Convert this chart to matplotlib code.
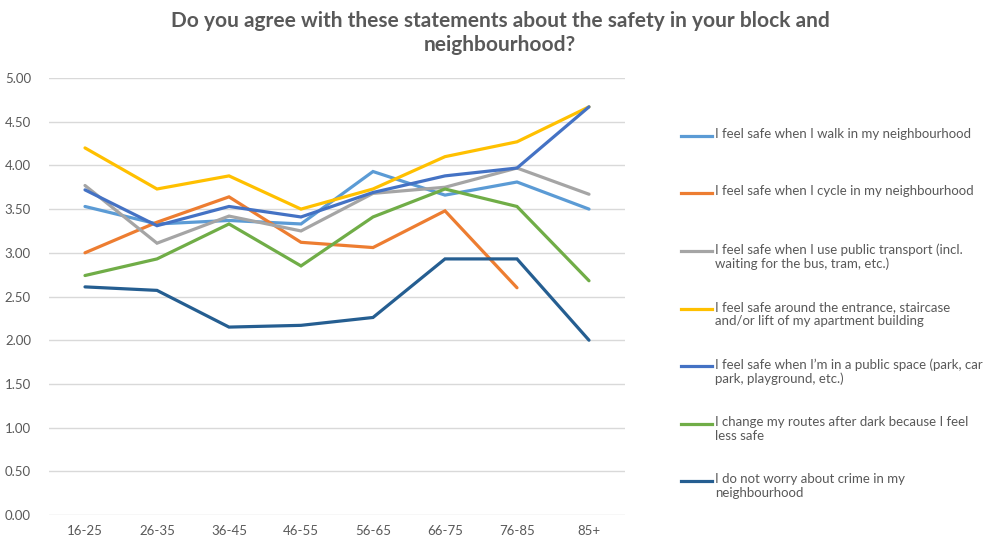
import numpy as np
import matplotlib
matplotlib.use("Agg")
import matplotlib.pyplot as plt
from matplotlib.lines import Line2D

plt.rcParams['font.family'] = ['Lato', 'DejaVu Sans']

# ================= DADOS =================
ages = ["16-25", "26-35", "36-45", "46-55", "56-65", "66-75", "76-85", "85+"]

walk = [3.53, 3.33, 3.37, 3.33, 3.93, 3.66, 3.81, 3.50]
cycle = [3.00, 3.35, 3.64, 3.12, 3.06, 3.48, 2.60, np.nan]
transport = [3.77, 3.11, 3.42, 3.25, 3.68, 3.75, 3.97, 3.67]
entrance = [4.20, 3.73, 3.88, 3.50, 3.73, 4.10, 4.27, 4.67]
public_space = [3.72, 3.31, 3.53, 3.41, 3.69, 3.88, 3.97, 4.67]
routes = [2.74, 2.93, 3.33, 2.85, 3.41, 3.73, 3.53, 2.68]
crime = [2.61, 2.57, 2.15, 2.17, 2.26, 2.93, 2.93, 2.00]

labels = [
    "I feel safe when I walk in my neighbourhood",
    "I feel safe when I cycle in my neighbourhood",
    "I feel safe when I use public transport (incl.\nwaiting for the bus, tram, etc.)",
    "I feel safe around the entrance, staircase\nand/or lift of my apartment building",
    "I feel safe when I\u2019m in a public space (park, car\npark, playground, etc.)",
    "I change my routes after dark because I feel\nless safe",
    "I do not worry about crime in my\nneighbourhood",
]
series = [walk, cycle, transport, entrance, public_space, routes, crime]
colors = ["#5B9BD5", "#ED7D31", "#A5A5A5", "#FFC000", "#4472C4", "#70AD47", "#255E91"]

TXT = "#595959"

# ================= FIGURA =================
fig = plt.figure(figsize=(9.9, 5.38), dpi=100)
ax = fig.add_axes([49 / 990, 1 - 515 / 538, 576 / 990, 437 / 538])

x = np.arange(len(ages))
for vals, col, lab in zip(series, colors, labels):
    ax.plot(x, vals, color=col, lw=2.3, label=lab, solid_capstyle='round',
            solid_joinstyle='miter')

ax.set_xlim(-0.5, len(ages) - 0.5)
ax.set_ylim(0, 5)
ax.set_yticks(np.arange(0, 5.01, 0.5))
ax.set_yticklabels([f"{v:.2f}" for v in np.arange(0, 5.01, 0.5)])
ax.set_xticks(x)
ax.set_xticklabels(ages)
ax.tick_params(length=0, colors=TXT, labelsize=9.5)
ax.tick_params(axis='y', pad=13)
ax.tick_params(axis='x', pad=7)
ax.grid(axis='y', color="#D9D9D9", lw=1)
ax.set_axisbelow(True)
for s in ax.spines.values():
    s.set_visible(False)

# titulo
fig.text(0.505, 1 - 33 / 538, "Do you agree with these statements about the safety in your block and\nneighbourhood?",
         ha='center', va='center', fontsize=15, fontweight='bold', color=TXT, linespacing=1.2)

# legenda manual
leg_y = [136, 193, 251, 309, 366, 424, 481]
for yy, col, lab in zip(leg_y, colors, labels):
    yf = 1 - yy / 538
    fig.add_artist(Line2D([681 / 990, 712 / 990], [yf, yf], color=col, lw=2.3,
                          transform=fig.transFigure))
    fig.text(715 / 990, 1 - (yy - 8) / 538, lab, ha='left', va='top', fontsize=9.5,
             color=TXT, linespacing=1.2)

fig.savefig("out.png", dpi=100)
